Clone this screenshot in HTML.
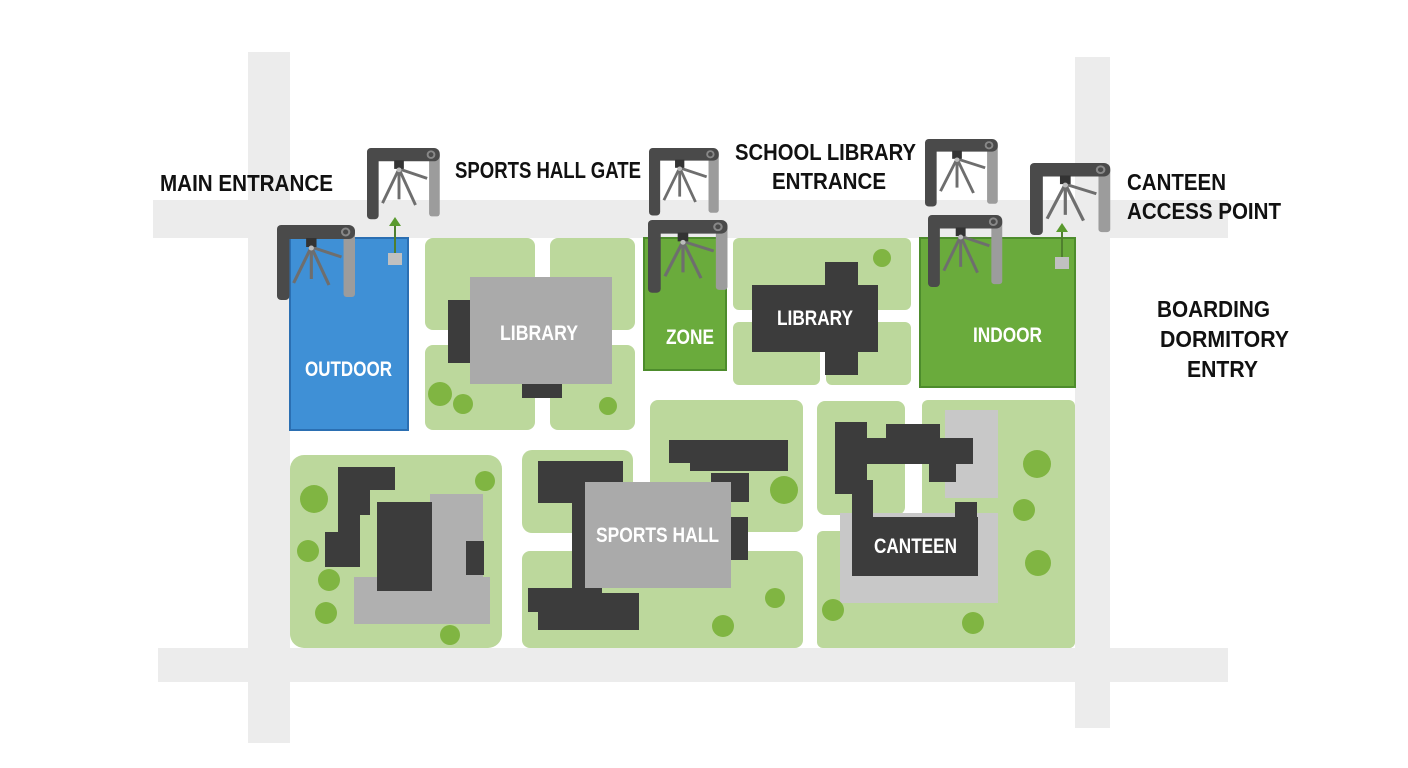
<!DOCTYPE html>
<html><head><meta charset="utf-8"><style>
html,body{margin:0;padding:0;background:#fff}
svg{display:block}
.lb{font-family:"Liberation Sans",sans-serif;font-weight:bold;fill:#111;font-size:23px}
.wl{font-family:"Liberation Sans",sans-serif;font-weight:bold;fill:#fff;font-size:21px}
</style></head><body>
<svg width="1408" height="768" viewBox="0 0 1408 768" xmlns="http://www.w3.org/2000/svg">
<defs>
<g id="ts">
 <line x1="33" y1="22" x2="16" y2="58" stroke="#6e6e6e" stroke-width="3"/>
 <line x1="33" y1="22" x2="33" y2="54" stroke="#6e6e6e" stroke-width="3"/>
 <line x1="33" y1="22" x2="50" y2="60" stroke="#6e6e6e" stroke-width="3"/>
 <line x1="33" y1="22" x2="62" y2="32" stroke="#6e6e6e" stroke-width="3"/>
 <rect x="64" y="4" width="11" height="68" rx="3" fill="#9c9c9c"/>
 <rect x="0" y="0" width="75" height="14" rx="6" fill="#4a4a4a"/>
 <rect x="0" y="0" width="12" height="75" rx="4" fill="#4a4a4a"/>
 <circle cx="66" cy="7" r="3.5" fill="none" stroke="#888" stroke-width="2"/>
 <rect x="28" y="13" width="10" height="9" fill="#333"/>
 <circle cx="33" cy="23" r="2.5" fill="#bbb"/>
</g>
</defs>
<g fill="#ececec">
 <rect x="248" y="52" width="42" height="691"/>
 <rect x="1075" y="57" width="35" height="671"/>
 <rect x="153" y="200" width="1075" height="38"/>
 <rect x="158" y="648" width="1070" height="34"/>
</g>
<g fill="#bcd89c">
 <rect x="425" y="238" width="110" height="92" rx="8"/>
 <rect x="425" y="345" width="110" height="85" rx="8"/>
 <rect x="550" y="238" width="85" height="92" rx="8"/>
 <rect x="550" y="345" width="85" height="85" rx="8"/>
 <rect x="733" y="238" width="178" height="72" rx="6"/>
 <rect x="733" y="322" width="87" height="63" rx="6"/>
 <rect x="826" y="322" width="85" height="63" rx="6"/>
 <rect x="290" y="455" width="212" height="193" rx="14"/>
 <rect x="522" y="450" width="111" height="83" rx="10"/>
 <rect x="522" y="551" width="281" height="97" rx="8"/>
 <rect x="650" y="400" width="153" height="132" rx="8"/>
 <rect x="817" y="401" width="88" height="114" rx="8"/>
 <rect x="922" y="400" width="153" height="248" rx="6"/>
 <rect x="817" y="531" width="258" height="117" rx="6"/>
</g>
<rect x="448" y="300" width="25" height="63" fill="#3c3c3c"/>
<rect x="522" y="383" width="40" height="15" fill="#3c3c3c"/>
<rect x="470" y="277" width="142" height="107" fill="#aaaaaa"/>
<text class="wl" x="500" y="340" textLength="78" lengthAdjust="spacingAndGlyphs">LIBRARY</text>
<g fill="#80b542"><circle cx="440" cy="394" r="12"/><circle cx="463" cy="404" r="10"/><circle cx="608" cy="406" r="9"/><circle cx="882" cy="258" r="9"/></g>
<rect x="290" y="238" width="118" height="192" fill="#3f90d6" stroke="#2b6fb2" stroke-width="2"/>
<text class="wl" x="305" y="376" textLength="87" lengthAdjust="spacingAndGlyphs">OUTDOOR</text>
<rect x="644" y="238" width="82" height="132" fill="#6aab3c" stroke="#4d8c2c" stroke-width="2"/>
<text class="wl" x="666" y="344" textLength="48" lengthAdjust="spacingAndGlyphs">ZONE</text>
<g fill="#3c3c3c"><rect x="752" y="285" width="126" height="67"/><rect x="825" y="262" width="33" height="113"/></g>
<text class="wl" x="777" y="325" textLength="76" lengthAdjust="spacingAndGlyphs">LIBRARY</text>
<rect x="920" y="238" width="155" height="149" fill="#6aab3c" stroke="#4d8c2c" stroke-width="2"/>
<text class="wl" x="973" y="342" textLength="69" lengthAdjust="spacingAndGlyphs">INDOOR</text>
<!-- lower left -->
<g fill="#b0b0b0"><rect x="430" y="494" width="53" height="128"/><rect x="354" y="577" width="136" height="47"/></g>
<g fill="#3c3c3c">
 <rect x="338" y="467" width="57" height="23"/><rect x="338" y="467" width="32" height="48"/><rect x="325" y="532" width="35" height="35"/><rect x="338" y="505" width="22" height="30"/>
 <rect x="377" y="502" width="55" height="89"/><rect x="466" y="541" width="18" height="34"/>
</g>
<g fill="#80b542"><circle cx="314" cy="499" r="14"/><circle cx="308" cy="551" r="11"/><circle cx="329" cy="580" r="11"/><circle cx="326" cy="613" r="11"/><circle cx="485" cy="481" r="10"/><circle cx="450" cy="635" r="10"/></g>
<!-- sports hall -->
<g fill="#3c3c3c">
 <rect x="538" y="461" width="85" height="42"/><rect x="572" y="461" width="15" height="140"/>
 <rect x="528" y="588" width="74" height="24"/><rect x="538" y="593" width="101" height="37"/>
 <rect x="669" y="440" width="119" height="23"/><rect x="690" y="440" width="98" height="31"/><rect x="711" y="473" width="38" height="29"/><rect x="731" y="517" width="17" height="43"/>
</g>
<rect x="585" y="482" width="146" height="106" fill="#aaaaaa"/>
<text class="wl" x="596" y="542" textLength="123" lengthAdjust="spacingAndGlyphs">SPORTS HALL</text>
<g fill="#80b542"><circle cx="784" cy="490" r="14"/><circle cx="775" cy="598" r="10"/><circle cx="723" cy="626" r="11"/></g>
<!-- canteen -->
<g fill="#c8c8c8"><rect x="945" y="410" width="53" height="88"/><rect x="840" y="513" width="158" height="90"/></g>
<g fill="#3c3c3c">
 <rect x="835" y="422" width="32" height="72"/><rect x="886" y="424" width="54" height="40"/>
 <rect x="835" y="438" width="138" height="26"/><rect x="929" y="438" width="27" height="44"/>
 <rect x="852" y="480" width="21" height="40"/><rect x="955" y="502" width="22" height="20"/>
 <rect x="852" y="517" width="126" height="59"/>
</g>
<text class="wl" x="874" y="553" textLength="83" lengthAdjust="spacingAndGlyphs">CANTEEN</text>
<g fill="#80b542"><circle cx="1037" cy="464" r="14"/><circle cx="1024" cy="510" r="11"/><circle cx="1038" cy="563" r="13"/><circle cx="833" cy="610" r="11"/><circle cx="973" cy="623" r="11"/></g>
<rect x="388" y="253" width="14" height="12" fill="#c0c0c0"/>
<line x1="395" y1="253" x2="395" y2="226" stroke="#4f7f2e" stroke-width="2"/>
<polygon points="389,226 401,226 395,217" fill="#5a9a2e"/>
<rect x="1055" y="257" width="14" height="12" fill="#c0c0c0"/>
<line x1="1062" y1="257" x2="1062" y2="232" stroke="#4f7f2e" stroke-width="2"/>
<polygon points="1056,232 1068,232 1062,223" fill="#5a9a2e"/>
<use href="#ts" transform="translate(367,148) scale(0.97,0.95)"/>
<use href="#ts" transform="translate(277,225) scale(1.04,1.0)"/>
<use href="#ts" transform="translate(649,148) scale(0.93,0.9)"/>
<use href="#ts" transform="translate(648,220) scale(1.06,0.97)"/>
<use href="#ts" transform="translate(925,139) scale(0.97,0.9)"/>
<use href="#ts" transform="translate(928,215) scale(0.99,0.96)"/>
<use href="#ts" transform="translate(1030,163) scale(1.07,0.96)"/>
<text class="lb" x="160" y="191" textLength="173" lengthAdjust="spacingAndGlyphs">MAIN ENTRANCE</text>
<text class="lb" x="455" y="178" textLength="186" lengthAdjust="spacingAndGlyphs">SPORTS HALL GATE</text>
<text class="lb" x="735" y="160" textLength="181" lengthAdjust="spacingAndGlyphs">SCHOOL LIBRARY</text>
<text class="lb" x="772" y="189" textLength="114" lengthAdjust="spacingAndGlyphs">ENTRANCE</text>
<text class="lb" x="1127" y="190" textLength="99" lengthAdjust="spacingAndGlyphs">CANTEEN</text>
<text class="lb" x="1127" y="219" textLength="154" lengthAdjust="spacingAndGlyphs">ACCESS POINT</text>
<text class="lb" x="1157" y="317" textLength="113" lengthAdjust="spacingAndGlyphs">BOARDING</text>
<text class="lb" x="1160" y="347" textLength="129" lengthAdjust="spacingAndGlyphs">DORMITORY</text>
<text class="lb" x="1187" y="377" textLength="71" lengthAdjust="spacingAndGlyphs">ENTRY</text>
</svg>
</body></html>
